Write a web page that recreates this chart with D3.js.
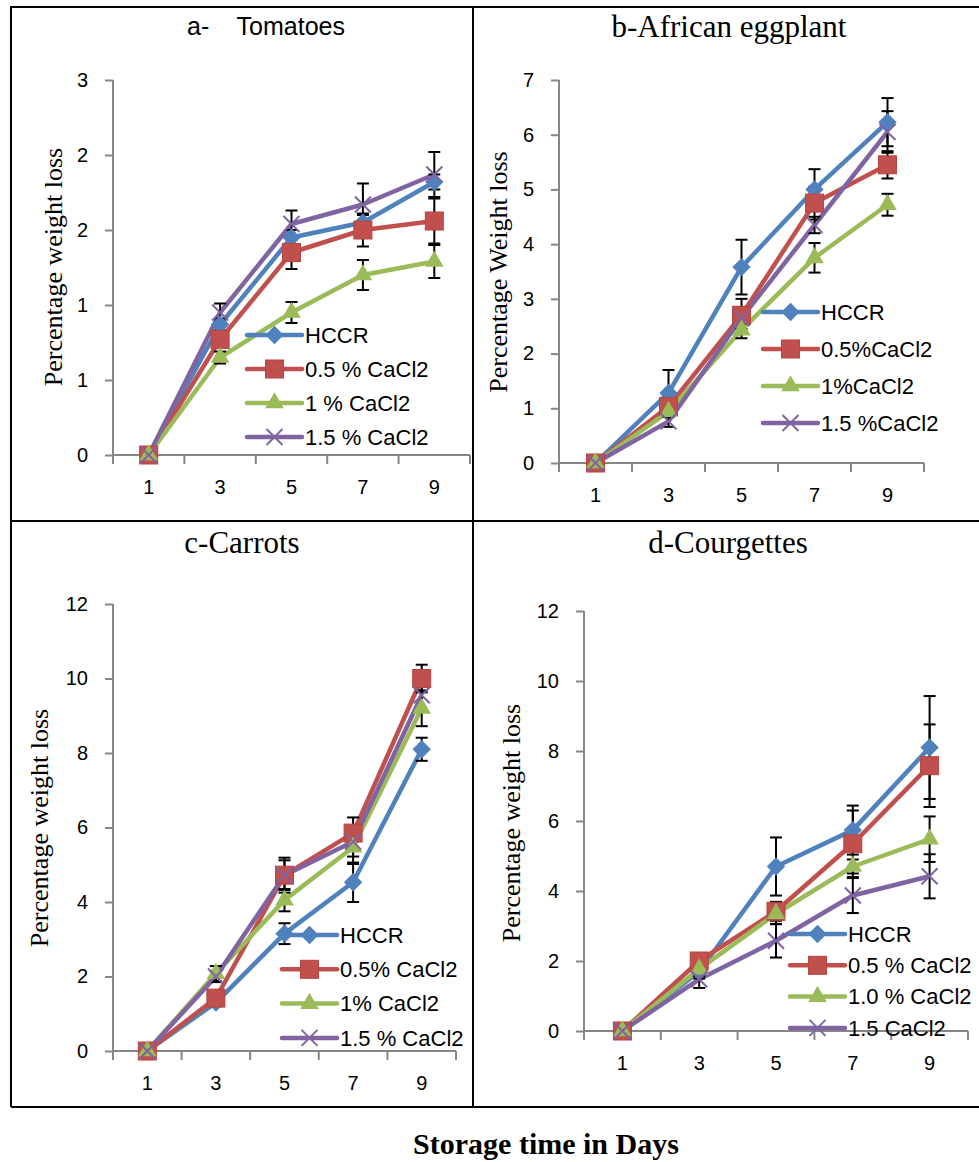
<!DOCTYPE html>
<html>
<head>
<meta charset="utf-8">
<script src="https://cdn.jsdelivr.net/npm/d3@7"></script>
<style>
  body { margin: 0; background: #fff; }
  svg { display: block; }
</style>
</head>
<body>
<div id="wrapper"></div>
<script>
// days on x axis, same for all four panels
const days = ["1", "3", "5", "7", "9"];
const seriesColors = ["#4F81BD", "#C0504D", "#9BBB59", "#8064A2"];
const seriesMarkers = ["diamond", "square", "triangle", "x"];

// a - tomatoes (rows: HCCR, 0.5%, 1%, 1.5%)
const tomatoMeans = [
  [0, 0.87, 1.45, 1.55, 1.82],
  [0, 0.77, 1.35, 1.50, 1.56],
  [0, 0.65, 0.95, 1.20, 1.29],
  [0, 0.95, 1.54, 1.67, 1.87]
];
const tomatoErrors = [
  [0, 0.04, 0.05, 0.05, 0.05],
  [0, 0.04, 0.11, 0.11, 0.15],
  [0, 0.04, 0.07, 0.10, 0.11],
  [0, 0.06, 0.09, 0.14, 0.15]
];
const tomatoTicks = [0, 0.5, 1, 1.5, 2, 2.5];
const tomatoTickLabels = ["0", "1", "1", "2", "2", "3"];
const tomatoLegend = ["HCCR", "0.5 % CaCl2", "1 % CaCl2", "1.5 % CaCl2"];

// b - african eggplant
const eggplantMeans = [
  [0, 1.28, 3.58, 5.00, 6.23],
  [0, 1.03, 2.70, 4.75, 5.45],
  [0, 0.94, 2.43, 3.75, 4.72],
  [0, 0.76, 2.65, 4.35, 6.05]
];
const eggplantErrors = [
  [0, 0.42, 0.50, 0.37, 0.44],
  [0, 0.10, 0.30, 0.30, 0.25],
  [0, 0.10, 0.15, 0.27, 0.20],
  [0, 0.10, 0.20, 0.15, 0.38]
];
const eggplantTicks = [0, 1, 2, 3, 4, 5, 6, 7];
const eggplantLegend = ["HCCR", "0.5%CaCl2", "1%CaCl2", "1.5 %CaCl2"];

// c - carrots
const carrotMeans = [
  [0, 1.30, 3.15, 4.53, 8.10],
  [0, 1.42, 4.72, 5.85, 10.0],
  [0, 2.08, 4.05, 5.47, 9.20],
  [0, 2.00, 4.72, 5.62, 9.55]
];
const carrotErrors = [
  [0, 0.10, 0.28, 0.53, 0.31],
  [0, 0.20, 0.47, 0.42, 0.37],
  [0, 0.20, 0.30, 0.45, 0.48],
  [0, 0.15, 0.40, 0.40, 0.40]
];
const carrotTicks = [0, 2, 4, 6, 8, 10, 12];
const carrotLegend = ["HCCR", "0.5% CaCl2", "1% CaCl2", "1.5 % CaCl2"];

// d - courgettes
const courgetteMeans = [
  [0, 1.70, 4.70, 5.74, 8.10],
  [0, 2.00, 3.42, 5.35, 7.58],
  [0, 1.77, 3.35, 4.70, 5.48],
  [0, 1.48, 2.58, 3.87, 4.42]
];
const courgetteErrors = [
  [0, 0.20, 0.83, 0.70, 1.47],
  [0, 0.20, 0.27, 0.95, 1.18],
  [0, 0.20, 0.30, 0.20, 0.65],
  [0, 0.25, 0.48, 0.50, 0.63]
];
const courgetteTicks = [0, 2, 4, 6, 8, 10, 12];
const courgetteLegend = ["HCCR", "0.5 % CaCl2", "1.0 % CaCl2", "1.5 CaCl2"];

const W = 979, H = 1162;
const sans = "'Liberation Sans', Arial, sans-serif";
const serif = "'Liberation Serif', 'Times New Roman', serif";

const svg = d3.select("#wrapper").append("svg")
  .attr("width", W).attr("height", H);

// frame of the figure
svg.append("path")
  .attr("d", "M11,1107 L11,7 L979,7 M11,521 L979,521 M473,7 L473,1107 M11,1107 L979,1107")
  .attr("fill", "none").attr("stroke", "#000").attr("stroke-width", 2);

const panels = [
  {title: "a-    Tomatoes", titleFont: sans, titleSize: 25, titleX: 266, titleY: 35,
   yTitle: "Percentage weight loss", yTitleX: 53, yTitleY: 267,
   means: tomatoMeans, errors: tomatoErrors, ticks: tomatoTicks, tickLabels: tomatoTickLabels,
   legend: tomatoLegend, x0: 113, x1: 470, y0: 455, y1: 80, max: 2.5,
   legX: 247, legY: 335, legGap: 34},
  {title: "b-African eggplant", titleFont: serif, titleSize: 31, titleX: 729, titleY: 37,
   yTitle: "Percentage Weight loss", yTitleX: 498, yTitleY: 272,
   means: eggplantMeans, errors: eggplantErrors, ticks: eggplantTicks, tickLabels: null,
   legend: eggplantLegend, x0: 559, x1: 924, y0: 463, y1: 80, max: 7,
   legX: 763, legY: 312, legGap: 37},
  {title: "c-Carrots", titleFont: serif, titleSize: 31, titleX: 242, titleY: 553,
   yTitle: "Percentage weight loss", yTitleX: 39, yTitleY: 828,
   means: carrotMeans, errors: carrotErrors, ticks: carrotTicks, tickLabels: null,
   legend: carrotLegend, x0: 113, x1: 456, y0: 1051, y1: 604, max: 12,
   legX: 282, legY: 935, legGap: 34.3},
  {title: "d-Courgettes", titleFont: serif, titleSize: 31, titleX: 728, titleY: 553,
   yTitle: "Percentage weight loss", yTitleX: 511, yTitleY: 823,
   means: courgetteMeans, errors: courgetteErrors, ticks: courgetteTicks, tickLabels: null,
   legend: courgetteLegend, x0: 584, x1: 968, y0: 1031, y1: 611, max: 12,
   legX: 790, legY: 934, legGap: 31.3}
];

function drawMarker(g, type, x, y, color) {
  if (type == "diamond") {
    g.append("rect").attr("x", -6.5).attr("y", -6.5).attr("width", 13).attr("height", 13)
      .attr("transform", `translate(${x},${y}) rotate(45)`)
      .attr("fill", color);
  } else if (type == "square") {
    g.append("rect").attr("x", x - 9).attr("y", y - 9).attr("width", 18).attr("height", 18)
      .attr("fill", color).attr("stroke", "#B8433F").attr("stroke-width", 1);
  } else if (type == "triangle") {
    g.append("path")
      .attr("d", d3.symbol().type(d3.symbolTriangle).size(150)())
      .attr("transform", `translate(${x},${y})`)
      .attr("fill", color);
  } else {
    g.append("path")
      .attr("d", "M-8,-8L8,8M-8,8L8,-8")
      .attr("transform", `translate(${x},${y})`)
      .attr("stroke", color).attr("stroke-width", 2).attr("fill", "none");
  }
}

panels.forEach(function(p) {
  const g = svg.append("g");
  const x = d3.scaleBand().domain(days).range([p.x0, p.x1]);
  const y = d3.scaleLinear().domain([0, p.max]).range([p.y0, p.y1]);
  const cx = d => x(d) + x.bandwidth() / 2;

  // title
  g.append("text").attr("x", p.titleX).attr("y", p.titleY)
    .attr("text-anchor", "middle").attr("font-family", p.titleFont)
    .attr("font-size", p.titleSize).style("white-space", "pre")
    .text(p.title);

  // y title
  g.append("text")
    .attr("transform", `translate(${p.yTitleX},${p.yTitleY}) rotate(-90)`)
    .attr("text-anchor", "middle").attr("dy", "0.35em")
    .attr("font-family", serif).attr("font-size", 26)
    .text(p.yTitle);

  // y axis
  const yAxis = d3.axisLeft(y).tickValues(p.ticks).tickSize(8).tickPadding(17)
    .tickFormat((d, i) => p.tickLabels ? p.tickLabels[i] : d3.format("d")(d));
  const ya = g.append("g").attr("transform", `translate(${p.x0},0)`).call(yAxis);
  ya.select(".domain").attr("stroke", "#868686").attr("stroke-width", 2)
    .attr("d", `M0,${p.y0}V${p.y1}`);
  ya.selectAll(".tick line").attr("stroke", "#868686").attr("stroke-width", 2);
  ya.selectAll(".tick text").attr("font-family", sans).attr("font-size", 20).attr("fill", "#000");

  // x axis: ticks at band edges like Excel
  const xa = g.append("g").attr("transform", `translate(0,${p.y0})`)
    .call(d3.axisBottom(x).tickSize(0).tickPadding(25));
  xa.select(".domain").attr("stroke", "#868686").attr("stroke-width", 2)
    .attr("d", `M${p.x0},0H${p.x1}`);
  xa.selectAll(".tick text").attr("font-family", sans).attr("font-size", 20).attr("fill", "#000");
  const edges = days.map(d => x(d)).concat([x(days[days.length - 1]) + x.bandwidth()]);
  xa.selectAll(".edge").data(edges).enter().append("line")
    .attr("x1", d => d).attr("x2", d => d).attr("y1", 0).attr("y2", 9)
    .attr("stroke", "#868686").attr("stroke-width", 2);

  // lines
  const line = d3.line().x((d, i) => cx(days[i])).y(d => y(d));
  p.means.forEach(function(vals, s) {
    g.append("path").datum(vals).attr("d", line)
      .attr("fill", "none").attr("stroke", seriesColors[s])
      .attr("stroke-width", 4.5).attr("stroke-linejoin", "round");
  });

  // error bars
  p.means.forEach(function(vals, s) {
    vals.forEach(function(v, i) {
      const e = p.errors[s][i];
      if (e == 0) return;
      const xx = cx(days[i]);
      const bar = g.append("g").attr("stroke", "#000").attr("stroke-width", 2);
      bar.append("line").attr("x1", xx).attr("x2", xx).attr("y1", y(v - e)).attr("y2", y(v + e));
      bar.append("line").attr("x1", xx - 6).attr("x2", xx + 6).attr("y1", y(v + e)).attr("y2", y(v + e));
      bar.append("line").attr("x1", xx - 6).attr("x2", xx + 6).attr("y1", y(v - e)).attr("y2", y(v - e));
    });
  });

  // markers
  p.means.forEach(function(vals, s) {
    vals.forEach(function(v, i) {
      drawMarker(g, seriesMarkers[s], cx(days[i]), y(v), seriesColors[s]);
    });
  });

  // legend
  p.legend.forEach(function(name, s) {
    const ly = p.legY + s * p.legGap;
    g.append("line").attr("x1", p.legX).attr("x2", p.legX + 55)
      .attr("y1", ly).attr("y2", ly)
      .attr("stroke", seriesColors[s]).attr("stroke-width", 4.5).attr("stroke-linecap", "round");
    drawMarker(g, seriesMarkers[s], p.legX + 27.5, ly, seriesColors[s]);
    g.append("text").attr("x", p.legX + 58).attr("y", ly).attr("dy", "0.35em")
      .attr("font-family", sans).attr("font-size", 22)
      .text(name);
  });
});

svg.append("text").attr("x", 546).attr("y", 1154)
  .attr("text-anchor", "middle").attr("font-family", serif)
  .attr("font-weight", "bold").attr("font-size", 30)
  .text("Storage time in Days");
</script>
</body>
</html>
